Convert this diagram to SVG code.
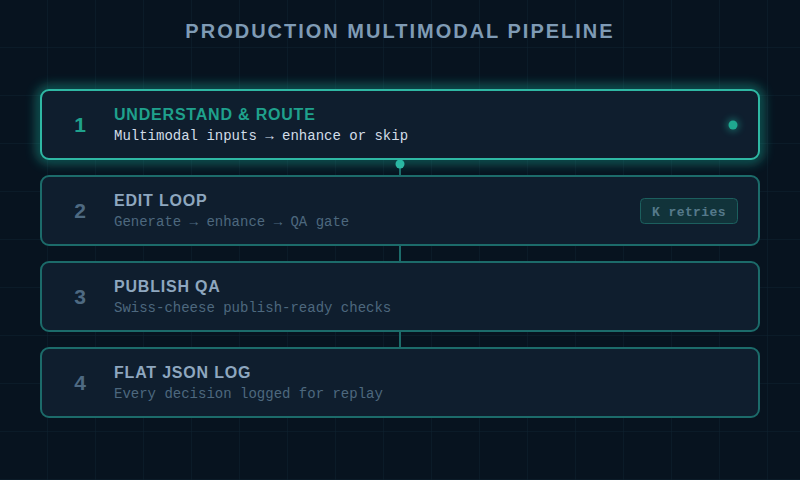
<svg xmlns="http://www.w3.org/2000/svg" width="800" height="480" viewBox="0 0 800 480">
<defs>
<pattern id="grid" width="48" height="48" patternUnits="userSpaceOnUse">
<path d="M48 0V48M0 48H48" fill="none" stroke="#0e2230" stroke-width="1"/>
</pattern>
<filter id="glow2" x="-10%" y="-50%" width="120%" height="200%">
<feGaussianBlur in="SourceGraphic" stdDeviation="6"/>
</filter>
<filter id="dotglow" x="-200%" y="-200%" width="500%" height="500%">
<feGaussianBlur in="SourceGraphic" stdDeviation="3"/>
</filter>
<style>
.box{fill:#0f1e2e;stroke:#1c6b6a;stroke-width:2}
.box.active{stroke:#2fb8a4}
.num{font-family:"Liberation Sans",Arial,sans-serif;font-weight:bold;font-size:21px;fill:#4e6a82;text-anchor:middle}
.ttl{font-family:"Liberation Sans",Arial,sans-serif;font-weight:bold;font-size:16px;letter-spacing:0.8px;fill:#8ea7bf}
.sub{font-family:"Liberation Mono","Courier New",monospace;font-size:14px;fill:#4d687e}
.active-t{fill:#1fa18c}
.conn{stroke:#1c6b6a;stroke-width:2}
</style>
</defs>
<rect width="800" height="480" fill="#07131f"/>
<rect width="800" height="480" fill="url(#grid)"/>
<text x="400" y="38" text-anchor="middle" font-family="Liberation Sans,Arial,sans-serif" font-weight="bold" font-size="20" letter-spacing="2" fill="#7f9bb5">PRODUCTION MULTIMODAL PIPELINE</text>

<g id="connectors">
<line class="conn" x1="400" y1="164" x2="400" y2="176" stroke="#2fb8a4"/>
<circle cx="400" cy="164" r="4.5" fill="#2fb8a4"/>
<line class="conn" x1="400" y1="246" x2="400" y2="262"/>
<line class="conn" x1="400" y1="332" x2="400" y2="348"/>
</g>

<g id="node1">
<rect x="41" y="90" width="718" height="69" rx="8" fill="none" stroke="#1fb5a0" stroke-width="7" opacity="0.65" filter="url(#glow2)"/>
<rect class="box active" x="41" y="90" width="718" height="69" rx="8"/>
<text class="num active-t" x="80" y="132">1</text>
<text class="ttl active-t" x="114" y="120">UNDERSTAND &amp; ROUTE</text>
<text class="sub" x="114" y="140" style="fill:#d2dde8">Multimodal inputs → enhance or skip</text>
<circle cx="733" cy="125" r="7" fill="#1fb5a0" opacity="0.35" filter="url(#dotglow)"/>
<circle cx="733" cy="125" r="4.5" fill="#1fa890"/>
</g>

<g id="node2">
<rect class="box" x="41" y="176" width="718" height="69" rx="8"/>
<text class="num" x="80" y="218">2</text>
<text class="ttl" x="114" y="206">EDIT LOOP</text>
<text class="sub" x="114" y="226">Generate → enhance → QA gate</text>
<rect x="640.5" y="198.5" width="97" height="25" rx="4" fill="#11333a" stroke="#1c5f5e" stroke-width="1"/>
<text x="689" y="215.5" text-anchor="middle" font-family="Liberation Mono,Courier New,monospace" font-weight="bold" font-size="13" letter-spacing="0.4" fill="#55798a">K retries</text>
</g>

<g id="node3">
<rect class="box" x="41" y="262" width="718" height="69" rx="8"/>
<text class="num" x="80" y="304">3</text>
<text class="ttl" x="114" y="292">PUBLISH QA</text>
<text class="sub" x="114" y="312">Swiss-cheese publish-ready checks</text>
</g>

<g id="node4">
<rect class="box" x="41" y="348" width="718" height="69" rx="8"/>
<text class="num" x="80" y="390">4</text>
<text class="ttl" x="114" y="378">FLAT JSON LOG</text>
<text class="sub" x="114" y="398">Every decision logged for replay</text>
</g>
</svg>
